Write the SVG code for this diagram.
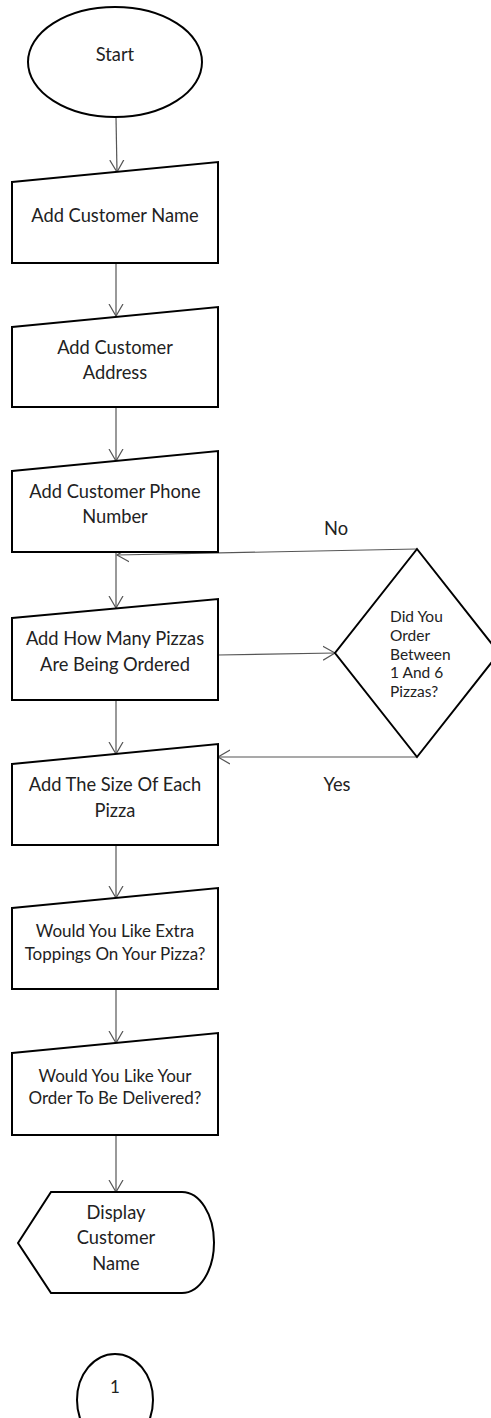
<svg xmlns="http://www.w3.org/2000/svg" width="491" height="1418" viewBox="0 0 491 1418">
<style>
.s{fill:#fff;stroke:#000;stroke-width:2;stroke-linejoin:miter}
.t{font-family:Lato,"Open Sans","Liberation Sans",sans-serif;font-size:18.3px;fill:#222;text-anchor:middle}
.t2{font-family:Lato,"Open Sans","Liberation Sans",sans-serif;font-size:17px;fill:#222;text-anchor:middle}
.d{font-family:Lato,"Open Sans","Liberation Sans",sans-serif;font-size:15.5px;fill:#222}
.c{fill:none;stroke:#555;stroke-width:1.2}
</style>
<defs>
<marker id="ah" markerUnits="userSpaceOnUse" markerWidth="14" markerHeight="16" viewBox="0 0 14 16" refX="12" refY="8" orient="auto">
<path d="M0,1 L12,8 L0,15" fill="none" stroke="#555" stroke-width="1.2"/>
</marker>
</defs>
<g id="connectors">
<line class="c" x1="116" y1="117" x2="117" y2="172" marker-end="url(#ah)"/>
<line class="c" x1="116" y1="263" x2="116" y2="316" marker-end="url(#ah)"/>
<line class="c" x1="116" y1="407" x2="116" y2="461" marker-end="url(#ah)"/>
<line class="c" x1="116" y1="552" x2="116" y2="608" marker-end="url(#ah)"/>
<line class="c" x1="417" y1="549" x2="117" y2="555" marker-end="url(#ah)"/>
<line class="c" x1="218" y1="655" x2="335" y2="653" marker-end="url(#ah)"/>
<line class="c" x1="116" y1="700" x2="116" y2="754" marker-end="url(#ah)"/>
<line class="c" x1="417" y1="757" x2="218" y2="757" marker-end="url(#ah)"/>
<line class="c" x1="116" y1="845" x2="116" y2="898" marker-end="url(#ah)"/>
<line class="c" x1="116" y1="989" x2="116" y2="1043" marker-end="url(#ah)"/>
<line class="c" x1="116" y1="1135" x2="116" y2="1192" marker-end="url(#ah)"/>
<text class="t" x="336" y="535">No</text>
<text class="t" x="337" y="791">Yes</text>
</g>
<g id="start">
<ellipse class="s" cx="115" cy="62" rx="87" ry="55" stroke-width="1.6"/>
<text class="t" x="115" y="61">Start</text>
</g>
<g id="name">
<path class="s" d="M12,182 L218,162 L218,263 L12,263 Z"/>
<text class="t" x="115" y="222">Add Customer Name</text>
</g>
<g id="address">
<path class="s" d="M12,327 L218,307 L218,407 L12,407 Z"/>
<text class="t" x="115" y="354">Add Customer</text>
<text class="t" x="115" y="379">Address</text>
</g>
<g id="phone">
<path class="s" d="M12,471 L218,451 L218,552 L12,552 Z"/>
<text class="t" x="115" y="498">Add Customer Phone</text>
<text class="t" x="115" y="523">Number</text>
</g>
<g id="howmany">
<path class="s" d="M12,618 L218,599 L218,700 L12,700 Z"/>
<text class="t" x="115" y="645">Add How Many Pizzas</text>
<text class="t" x="115" y="671">Are Being Ordered</text>
</g>
<g id="decision">
<path class="s" d="M417,549 L499,653 L417,757 L335,653 Z"/>
<text class="d" x="390" y="622">Did You</text>
<text class="d" x="390" y="641">Order</text>
<text class="d" x="390" y="660">Between</text>
<text class="d" x="390" y="678">1 And 6</text>
<text class="d" x="390" y="697">Pizzas?</text>
</g>
<g id="size">
<path class="s" d="M12,764 L218,744 L218,845 L12,845 Z"/>
<text class="t" x="115" y="791">Add The Size Of Each</text>
<text class="t" x="115" y="817">Pizza</text>
</g>
<g id="toppings">
<path class="s" d="M12,908 L218,888 L218,989 L12,989 Z"/>
<text class="t2" x="115" y="937">Would You Like Extra</text>
<text class="t2" x="115" y="960">Toppings On Your Pizza?</text>
</g>
<g id="delivery">
<path class="s" d="M12,1053 L218,1033 L218,1135 L12,1135 Z"/>
<text class="t2" x="115" y="1082">Would You Like Your</text>
<text class="t2" x="115" y="1104">Order To Be Delivered?</text>
</g>
<g id="display">
<path class="s" d="M18,1243 L51,1192 L182,1192 A32,50.5 0 0 1 182,1293 L51,1293 Z"/>
<text class="t" x="116" y="1219">Display</text>
<text class="t" x="116" y="1244">Customer</text>
<text class="t" x="116" y="1270">Name</text>
</g>
<g id="connector1">
<ellipse class="s" cx="115" cy="1400" rx="38" ry="46" stroke-width="1.6"/>
<text class="t2" x="115" y="1393">1</text>
</g>
</svg>
